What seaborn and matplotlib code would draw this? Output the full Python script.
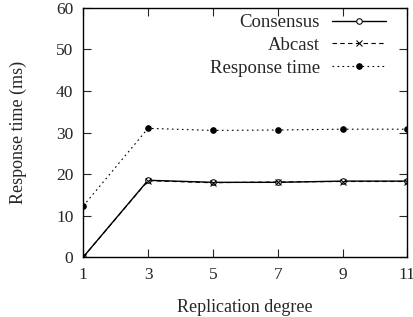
import pandas as pd
import matplotlib
matplotlib.use('Agg')
import matplotlib.pyplot as plt
import seaborn as sns

# 数据
degrees = [1, 3, 5, 7, 9, 11]
consensus = [0.0, 18.5, 18.0, 18.0, 18.3, 18.3]
abcast = [0.0, 18.4, 17.9, 18.1, 18.2, 18.2]
response = [12.3, 31.0, 30.5, 30.6, 30.8, 30.8]

sns.set_style('ticks')
plt.rcParams['font.family'] = ['Liberation Serif', 'DejaVu Serif']
plt.rcParams['font.size'] = 13

fig = plt.figure(figsize=(4.14, 3.17), dpi=100)
ax = fig.add_axes([0.201, 0.189, 0.783, 0.786])

sns.lineplot(x=degrees, y=consensus, ax=ax, color='black', linewidth=1,
             linestyle='-', marker='o', markerfacecolor='white',
             markeredgecolor='black', markersize=4, label='Consensus')
sns.lineplot(x=degrees, y=abcast, ax=ax, color='black', linewidth=0.8,
             linestyle=(0, (4, 3)), marker='x', markeredgecolor='black',
             markersize=4, label='Abcast')
sns.lineplot(x=degrees, y=response, ax=ax, color='black', linewidth=0.8,
             linestyle=(0, (1.5, 3)), marker='o', markerfacecolor='black',
             markeredgecolor='black', markersize=4, label='Response time')

ax.set_xlim(1, 11)
ax.set_ylim(0, 60)
ax.set_xticks(degrees)
ax.set_yticks(range(0, 61, 10))
ax.tick_params(direction='in', top=True, right=True, length=6, width=0.8, pad=7,
               labelsize=12.5)
for s in ax.spines.values():
    s.set_linewidth(1)
    s.set_color('black')

ax.set_xlabel('Replication degree', labelpad=12)
ax.set_ylabel('Response time (ms)', labelpad=21)

leg = ax.legend(loc='upper right', bbox_to_anchor=(0.935, 0.975), frameon=False,
                markerfirst=False, handlelength=2.9, borderaxespad=0,
                labelspacing=0.3, handletextpad=0.65, borderpad=0, fontsize=13.5)

fig.savefig('out.png', dpi=100)
